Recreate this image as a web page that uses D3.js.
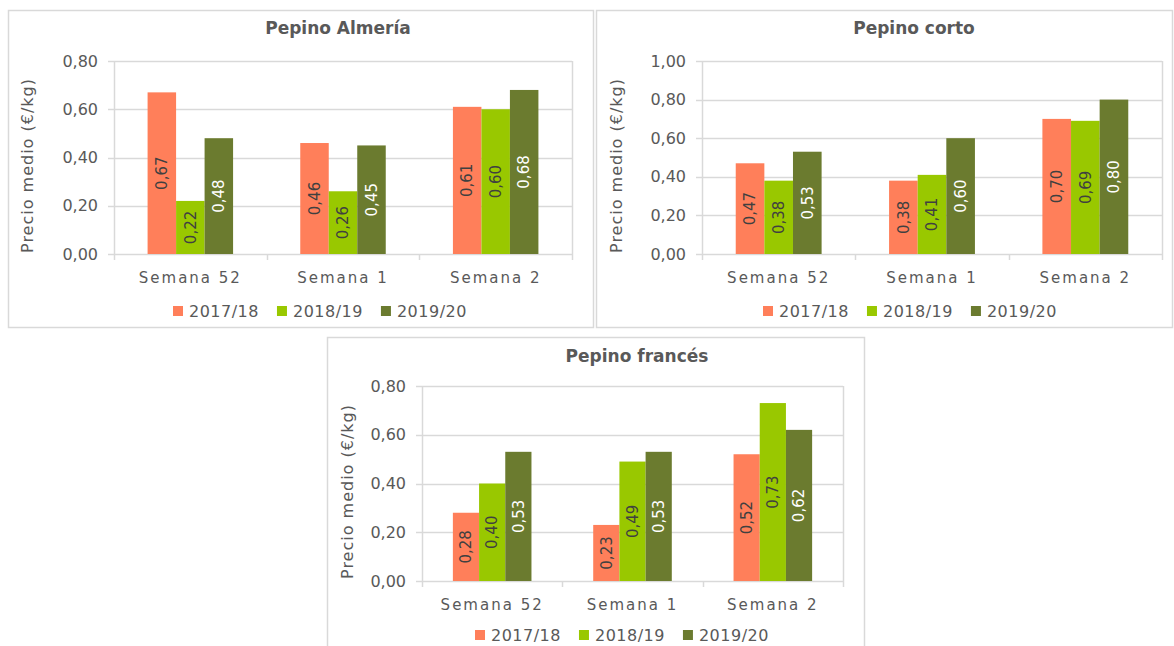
<!DOCTYPE html>
<html>
<head>
<meta charset="utf-8">
<script src="https://cdn.jsdelivr.net/npm/d3@7"></script>
<style>
  body { margin: 0; background: #fff; }
  svg text { font-family: "DejaVu Sans", sans-serif; fill: #595959; }
</style>
</head>
<body>
<div id="chart"></div>
<script>
// data
var categories = ["Semana 52", "Semana 1", "Semana 2"];
var seasons = ["2017/18", "2018/19", "2019/20"];
var seasonColors = ["#FF7F5A", "#99C800", "#6B7B2F"];
var labelColors = ["#404040", "#404040", "#ffffff"];

// values per category: [2017/18, 2018/19, 2019/20]
var almeriaValues = [[0.67, 0.22, 0.48], [0.46, 0.26, 0.45], [0.61, 0.60, 0.68]];
var cortoValues = [[0.47, 0.38, 0.53], [0.38, 0.41, 0.60], [0.70, 0.69, 0.80]];
var francesValues = [[0.28, 0.40, 0.53], [0.23, 0.49, 0.53], [0.52, 0.73, 0.62]];

var almeriaTicks = [0, 0.2, 0.4, 0.6, 0.8];
var cortoTicks = [0, 0.2, 0.4, 0.6, 0.8, 1.0];
var francesTicks = [0, 0.2, 0.4, 0.6, 0.8];

var svg = d3.select("#chart").append("svg")
  .attr("width", 1174)
  .attr("height", 646);

var fmt = function(v) { return d3.format(".2f")(v).replace(".", ","); };

function drawPanel(title, values, ticks, box) {
  // outer frame
  svg.append("rect")
    .attr("x", box.frame[0] + 0.5)
    .attr("y", box.frame[1] + 0.5)
    .attr("width", box.frame[2] - box.frame[0])
    .attr("height", box.frame[3] - box.frame[1])
    .attr("fill", "#fff")
    .attr("stroke", "#d9d9d9")
    .attr("stroke-width", 1.5);

  var yScale = d3.scaleLinear()
    .domain([0, d3.max(ticks)])
    .range([box.b, box.t]);
  var x0 = d3.scaleBand()
    .domain(categories)
    .range([box.l, box.r]);
  var gap = x0.bandwidth() * 0.22;
  var x1 = d3.scaleBand()
    .domain(seasons)
    .range([gap, x0.bandwidth() - gap]);

  var g = svg.append("g");

  // gridlines
  g.selectAll(".grid")
    .data(ticks)
    .enter()
    .append("line")
    .attr("x1", box.l - 6)
    .attr("x2", box.r)
    .attr("y1", d => Math.round(yScale(d)) + 0.5)
    .attr("y2", d => Math.round(yScale(d)) + 0.5)
    .attr("stroke", "#d9d9d9")
    .attr("stroke-width", 1.5);

  // plot area sides
  g.append("line")
    .attr("x1", box.l + 0.5).attr("x2", box.l + 0.5)
    .attr("y1", box.t).attr("y2", box.b)
    .attr("stroke", "#d9d9d9").attr("stroke-width", 1.5);
  g.append("line")
    .attr("x1", box.r + 0.5).attr("x2", box.r + 0.5)
    .attr("y1", box.t).attr("y2", box.b + 6)
    .attr("stroke", "#d9d9d9").attr("stroke-width", 1.5);

  // category separators on x axis
  g.selectAll(".xtick")
    .data(categories)
    .enter()
    .append("line")
    .attr("x1", d => Math.round(x0(d)) + 0.5)
    .attr("x2", d => Math.round(x0(d)) + 0.5)
    .attr("y1", box.b)
    .attr("y2", box.b + 6)
    .attr("stroke", "#d9d9d9")
    .attr("stroke-width", 1.5);

  // y tick labels
  g.selectAll(".ylab")
    .data(ticks)
    .enter()
    .append("text")
    .attr("x", box.l - 16)
    .attr("y", d => yScale(d))
    .attr("dy", "0.35em")
    .attr("text-anchor", "end")
    .style("font-size", "16px")
    .text(fmt);

  // x tick labels
  g.selectAll(".xlab")
    .data(categories)
    .enter()
    .append("text")
    .attr("x", d => x0(d) + x0.bandwidth() / 2)
    .attr("y", box.b + 24)
    .attr("dy", "0.35em")
    .attr("text-anchor", "middle")
    .style("font-size", "15px")
    .style("letter-spacing", "2px")
    .text(d => d);

  // bars
  var groups = g.selectAll(".cat")
    .data(values)
    .enter()
    .append("g")
    .attr("transform", (d, i) => `translate(${x0(categories[i])},0)`);

  groups.selectAll("rect")
    .data(d => d.map((v, j) => ({ v: v, j: j })))
    .enter()
    .append("rect")
    .attr("x", d => x1(seasons[d.j]))
    .attr("y", d => yScale(d.v))
    .attr("width", x1.bandwidth())
    .attr("height", d => box.b - yScale(d.v))
    .attr("fill", d => seasonColors[d.j]);

  groups.selectAll(".vlab")
    .data(d => d.map((v, j) => ({ v: v, j: j })))
    .enter()
    .append("text")
    .attr("transform", d => `translate(${x1(seasons[d.j]) + x1.bandwidth() / 2},${(yScale(d.v) + box.b) / 2}) rotate(-90)`)
    .attr("text-anchor", "middle")
    .attr("dy", "0.35em")
    .style("font-size", "15px")
    .style("fill", d => labelColors[d.j])
    .text(d => fmt(d.v));

  // title
  svg.append("text")
    .attr("x", box.titleX)
    .attr("y", box.titleY)
    .attr("dy", "0.35em")
    .attr("text-anchor", "middle")
    .style("font-size", "17px")
    .style("font-weight", "bold")
    .text(title);

  // y axis title
  svg.append("text")
    .attr("transform", `translate(${box.yTitleX},${(box.t + box.b) / 2 + 8}) rotate(-90)`)
    .attr("text-anchor", "middle")
    .attr("dy", "0.35em")
    .style("font-size", "16px")
    .style("letter-spacing", "1px")
    .text("Precio medio  (€/kg)");

  // legend
  var lx = box.legendX;
  seasons.forEach(function(s, i) {
    svg.append("rect")
      .attr("x", lx)
      .attr("y", box.legendY - 5)
      .attr("width", 10)
      .attr("height", 10)
      .attr("fill", seasonColors[i]);
    var t = svg.append("text")
      .attr("x", lx + 16)
      .attr("y", box.legendY)
      .attr("dy", "0.35em")
      .style("font-size", "16px")
      .style("letter-spacing", "0.5px")
      .text(s);
    lx += 16 + t.node().getComputedTextLength() + 18;
  });
}

drawPanel("Pepino Almería", almeriaValues, almeriaTicks, {
  frame: [8, 10, 593, 327], l: 114, t: 61, r: 572, b: 254,
  titleX: 338, titleY: 28, yTitleX: 27, legendX: 173, legendY: 311
});
drawPanel("Pepino corto", cortoValues, cortoTicks, {
  frame: [596, 10, 1172, 327], l: 702, t: 61, r: 1162, b: 254,
  titleX: 914, titleY: 28, yTitleX: 616, legendX: 763, legendY: 311
});
drawPanel("Pepino francés", francesValues, francesTicks, {
  frame: [327, 337, 864, 660], l: 422, t: 386, r: 843, b: 581,
  titleX: 637, titleY: 356, yTitleX: 347, legendX: 475, legendY: 635
});
</script>
</body>
</html>
